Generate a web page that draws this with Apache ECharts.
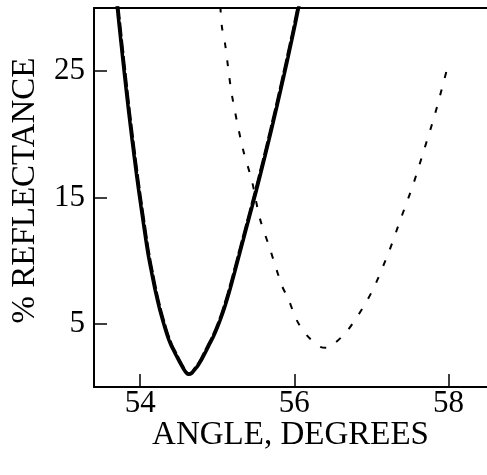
<!DOCTYPE html>
<html>
<head>
<meta charset="utf-8">
<script src="https://cdn.jsdelivr.net/npm/echarts@6/dist/echarts.min.js"></script>
<style>html,body{margin:0;padding:0;background:#fff}#c{width:487px;height:475px}</style>
</head>
<body>
<div id="c"></div>
<script>
// Theory curve (solid) : [angle, % reflectance]
const theoryCurve = [
  [53.70,30.2],[53.75,27.3],[53.80,24.5],[53.85,21.8],[53.90,19.3],[53.95,16.9],
  [54.00,14.7],[54.05,12.6],[54.10,10.6],[54.15,9.0],[54.20,7.5],[54.25,6.2],
  [54.30,5.1],[54.35,4.1],[54.40,3.3],[54.45,2.7],[54.50,2.1],[54.55,1.55],
  [54.60,1.1],[54.63,1.0],[54.67,1.1],[54.71,1.4],[54.75,1.7],[54.80,2.2],
  [54.85,2.8],[54.90,3.4],[54.95,4.0],[55.00,4.7],[55.05,5.5],[55.10,6.4],
  [55.15,7.4],[55.20,8.5],[55.30,10.8],[55.40,13.1],[55.50,15.4],[55.60,17.8],
  [55.70,20.3],[55.80,22.9],[55.90,25.6],[56.00,28.4],[56.06,30.2]
];
// Measured curve (long dashes), almost on top of the theory curve
const measuredCurve = [
  [53.71,30.2],[53.76,27.3],[53.81,24.5],[53.86,21.8],[53.91,19.3],[53.96,16.9],
  [54.01,14.7],[54.06,12.6],[54.11,10.6],[54.16,9.0],[54.21,7.5],[54.26,6.2],
  [54.31,5.1],[54.36,4.1],[54.41,3.3],[54.46,2.7],[54.51,2.1],[54.56,1.55],
  [54.60,1.15],[54.63,1.05],[54.67,1.15],[54.70,1.4],[54.74,1.7],[54.79,2.2],
  [54.84,2.8],[54.89,3.4],[54.94,4.0],[54.99,4.7],[55.04,5.5],[55.09,6.4],
  [55.14,7.4],[55.19,8.5],[55.29,10.8],[55.39,13.1],[55.49,15.4],[55.59,17.8],
  [55.69,20.3],[55.79,22.9],[55.89,25.6],[55.99,28.4],[56.05,30.2]
];
// Shifted curve (short dashes)
const shiftedCurve = [
  [55.04,30.1],[55.06,28.5],[55.10,27.2],[55.13,25.8],[55.19,23.1],[55.33,18.9],
  [55.45,16.3],[55.55,13.4],[55.68,11.0],[55.84,8.0],[55.92,7.0],[56.03,5.3],
  [56.16,4.1],[56.33,3.2],[56.42,3.1],[56.53,3.5],[56.68,4.4],[56.83,5.7],
  [56.94,6.8],[57.05,8.1],[57.23,10.75],[57.38,13.3],[57.54,16.0],[57.68,18.7],
  [57.82,21.5],[57.94,24.2],[58.00,25.6]
];
const xTicks = [54, 56, 58];
const yTicks = [5, 15, 25];

const font = 'Liberation Serif, Times New Roman, serif';
const chart = echarts.init(document.getElementById('c'), null, {renderer: 'canvas'});
chart.setOption({
  animation: false,
  backgroundColor: '#fff',
  grid: {left: 94, right: 0, top: 8, bottom: 88, containLabel: false},
  xAxis: [{
    type: 'value', min: 53.4, max: 58.5,
    axisLine: {show: true, lineStyle: {color: '#000', width: 2}},
    axisTick: {show: true, inside: true, length: 13, customValues: xTicks, lineStyle: {color: '#000', width: 1.5}},
    axisLabel: {customValues: xTicks, color: '#000', fontFamily: font, fontSize: 31, margin: 1},
    splitLine: {show: false},
    name: 'ANGLE, DEGREES', nameLocation: 'middle', nameGap: 32, nameMoveOverlap: false,
    nameTextStyle: {color: '#000', fontFamily: font, fontSize: 33}
  }, {
    type: 'value', min: 53.4, max: 58.5, position: 'top',
    axisLine: {show: true, lineStyle: {color: '#000', width: 2}},
    axisTick: {show: false}, axisLabel: {show: false}, splitLine: {show: false}
  }],
  yAxis: {
    type: 'value', min: 0, max: 30,
    axisLine: {show: true, lineStyle: {color: '#000', width: 2}},
    axisTick: {show: true, inside: true, length: 13, customValues: yTicks, lineStyle: {color: '#000', width: 1.5}},
    axisLabel: {customValues: yTicks, color: '#000', fontFamily: font, fontSize: 31, margin: 9},
    splitLine: {show: false},
    name: '% REFLECTANCE', nameLocation: 'middle', nameGap: 52, nameRotate: 90, nameMoveOverlap: false,
    nameTextStyle: {color: '#000', fontFamily: font, fontSize: 33, padding: [0, 0, 0, 14]}
  },
  series: [{
    type: 'line', data: theoryCurve, smooth: 0.3, showSymbol: false,
    lineStyle: {color: '#000', width: 3.5}
  }, {
    type: 'line', data: measuredCurve, smooth: 0.3, showSymbol: false,
    lineStyle: {color: '#000', width: 3, type: [14, 3]}
  }, {
    type: 'line', data: shiftedCurve, smooth: 0.3, showSymbol: false,
    lineStyle: {color: '#000', width: 2, type: [6, 12]}
  }]
});
</script>
</body>
</html>
